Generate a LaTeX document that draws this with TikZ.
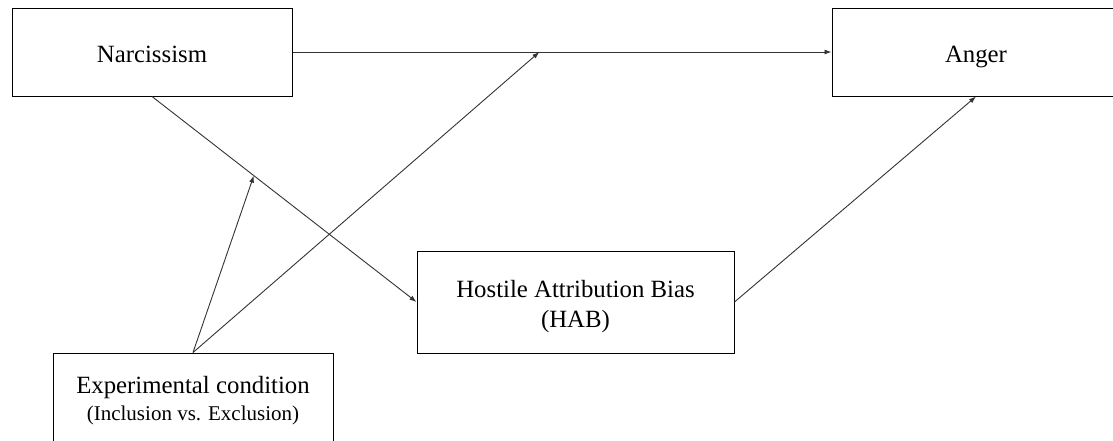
\documentclass[tikz,border=0pt]{standalone}
\usepackage{fontspec}
\setmainfont{Liberation Serif}
\usetikzlibrary{arrows.meta,calc}
\tikzset{
  varbox/.style={draw=black, line width=1pt, rectangle, inner sep=0pt},
  bigtext/.style={anchor=base, inner sep=0pt, font=\fontsize{24.8}{30}\selectfont},
  smalltext/.style={anchor=base, inner sep=0pt, font=\fontsize{21}{24}\selectfont},
  conn/.style={draw=black!80, line width=0.9pt, -{Latex[length=7pt,width=5pt]}},
}
\begin{document}
\begin{tikzpicture}[x=1pt,y=-1pt]
\useasboundingbox (0,0) rectangle (1113,440);
\clip (0,0) rectangle (1113,440);
\node[varbox, minimum width=280pt, minimum height=88pt] (narc) at (152,52) {};
\node[varbox, minimum width=288pt, minimum height=88pt] (anger) at (976,52) {};
\node[varbox, minimum width=317pt, minimum height=102pt] (hab) at (575.5,302) {};
\node[varbox, minimum width=280pt, minimum height=94pt] (exp) at (193,400) {};
\node[bigtext] (narcT) at (152,62) {Narcissism};
\node[bigtext] (angerT) at (976,62) {Anger};
\node[bigtext] (habT1) at (575.5,297) {Hostile Attribution Bias};
\node[bigtext] (habT2) at (575.5,327) {(HAB)};
\node[bigtext] (expT1) at (193,393) {Experimental condition};
\node[smalltext] (expT2) at (193,420) {(Inclusion vs. Exclusion)};
\coordinate (m1) at ($(narc.east)!0.458!(anger.west)$);
\coordinate (m2) at ($(narc.south)!0.385!(hab.west)$);
\draw[conn] (narc.east) -- (anger.west);
\draw[conn] (narc.south) -- (hab.west);
\draw[conn] (hab.east) -- (anger.south);
\draw[conn] (exp.north) -- (m1);
\draw[conn] (exp.north) -- (m2);
\end{tikzpicture}
\end{document}
